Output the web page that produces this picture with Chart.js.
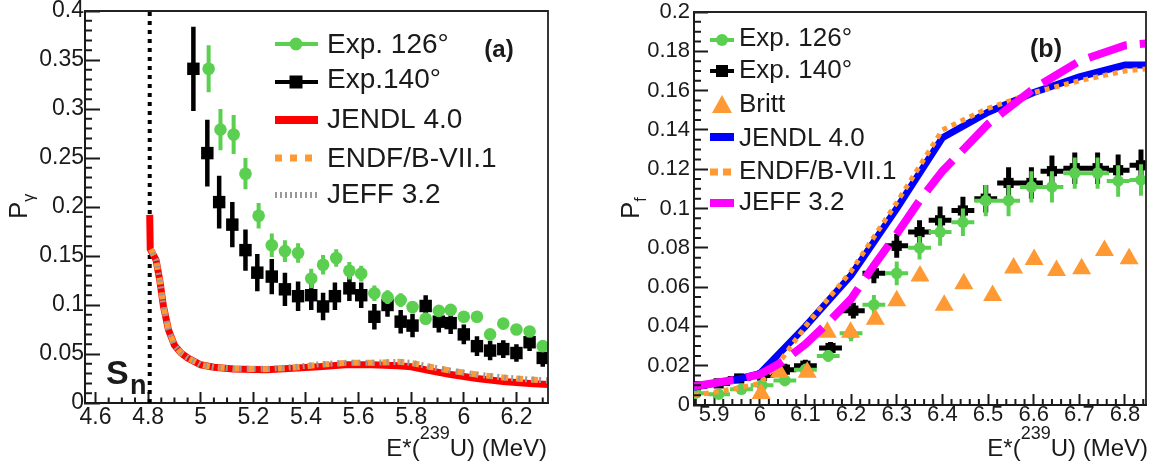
<!DOCTYPE html>
<html><head><meta charset="utf-8">
<script src="https://cdn.jsdelivr.net/npm/chart.js@4"></script>
<style>
html,body{margin:0;padding:0;background:#fff;}
#wrap{position:relative;width:1157px;height:466px;overflow:hidden;}
#c1{position:absolute;left:0;top:0;}
#c2{position:absolute;left:580px;top:0;}
</style></head><body>
<div id="wrap"><canvas id="c1" width="580" height="466"></canvas><canvas id="c2" width="577" height="466"></canvas></div>
<script>
// ---------------- Panel (a) data ----------------
const aSn = 4.806;
const aGreenX = [5.03,5.075,5.125,5.17,5.22,5.27,5.32,5.37,5.42,5.465,5.515,5.565,5.61,5.66,5.71,5.76,5.805,5.855,5.905,5.95,6.0,6.05,6.1,6.15,6.2,6.25,6.3];
const aGreenY = [0.341,0.279,0.274,0.234,0.191,0.161,0.155,0.153,0.127,0.141,0.148,0.135,0.132,0.112,0.108,0.105,0.098,0.086,0.094,0.095,0.088,0.088,0.070,0.081,0.075,0.073,0.058];
const aGreenErr = [0.024,0.021,0.020,0.016,0.013,0.012,0.011,0.010,0.010,0.010,0.009,0.009,0.008,0.008,0.007,0.007,0.006,0.006,0.005,0.005,0.005,0.005,0.005,0.005,0.005,0.005,0.005];
const aBlackX = [4.972,5.025,5.07,5.12,5.17,5.215,5.27,5.32,5.37,5.42,5.465,5.51,5.565,5.61,5.66,5.71,5.76,5.805,5.855,5.905,5.95,6.0,6.05,6.1,6.15,6.2,6.25,6.3];
const aBlackY = [0.341,0.255,0.205,0.182,0.156,0.133,0.129,0.116,0.109,0.110,0.0985,0.109,0.117,0.110,0.088,0.100,0.083,0.079,0.099,0.083,0.0815,0.070,0.058,0.0535,0.055,0.051,0.062,0.046];
const aBlackErr = [0.043,0.034,0.027,0.023,0.021,0.019,0.018,0.017,0.015,0.015,0.014,0.014,0.013,0.013,0.013,0.012,0.012,0.012,0.011,0.011,0.011,0.010,0.010,0.010,0.009,0.009,0.009,0.009];
const aJendlX = [4.806,4.808,4.83,4.845,4.858,4.877,4.90,4.925,4.95,5.0,5.05,5.125,5.25,5.35,5.45,5.55,5.65,5.75,5.8,5.87,5.95,6.05,6.15,6.25,6.32];
const aJendlY = [0.192,0.157,0.146,0.124,0.099,0.075,0.059,0.051,0.046,0.039,0.0365,0.0348,0.034,0.0355,0.037,0.039,0.039,0.038,0.037,0.033,0.029,0.025,0.022,0.020,0.019];
const aEndfX = [4.81,4.83,4.845,4.858,4.877,4.90,4.925,4.95,5.0,5.05,5.125,5.25,5.35,5.45,5.55,5.65,5.75,5.8,5.87,5.95,6.05,6.15,6.25,6.32];
const aEndfY = [0.157,0.146,0.124,0.099,0.075,0.059,0.051,0.046,0.039,0.0365,0.035,0.0345,0.036,0.039,0.041,0.041,0.042,0.041,0.037,0.033,0.029,0.026,0.024,0.023];
const aJeffX = [4.81,4.83,4.845,4.858,4.877,4.90,4.925,4.95,5.0,5.05,5.125,5.25,5.35,5.45,5.55,5.65,5.75,5.8,5.87,5.95,6.05,6.15,6.25,6.32];
const aJeffY = [0.157,0.146,0.124,0.099,0.075,0.059,0.051,0.046,0.039,0.0365,0.035,0.0348,0.0365,0.0395,0.041,0.041,0.042,0.041,0.037,0.033,0.029,0.026,0.024,0.023];
const aXTicks = [4.6,4.8,5.0,5.2,5.4,5.6,5.8,6.0,6.2];
const aXLabels = ['4.6','4.8','5','5.2','5.4','5.6','5.8','6','6.2'];
const aYTicks = [0,0.05,0.1,0.15,0.2,0.25,0.3,0.35,0.4];
const aYLabels = ['0','0.05','0.1','0.15','0.2','0.25','0.3','0.35','0.4'];
const aLegend = ['Exp. 126°','Exp.140°','JENDL 4.0','ENDF/B-VII.1','JEFF 3.2'];

// ---------------- Panel (b) data ----------------
const bGreenX = [5.86,5.91,5.96,6.005,6.055,6.10,6.15,6.20,6.25,6.30,6.35,6.395,6.445,6.495,6.545,6.595,6.64,6.69,6.74,6.785,6.835];
const bGreenY = [0.006,0.0055,0.008,0.010,0.0125,0.018,0.025,0.0365,0.051,0.067,0.080,0.088,0.093,0.104,0.104,0.111,0.111,0.118,0.118,0.114,0.1145];
const bGreenYErr = [0.002,0.002,0.002,0.002,0.003,0.003,0.003,0.004,0.005,0.006,0.006,0.007,0.007,0.008,0.008,0.008,0.008,0.008,0.008,0.008,0.008];
const bGreenXErr = [0.025,0.025,0.025,0.025,0.025,0.025,0.025,0.025,0.025,0.025,0.025,0.025,0.025,0.025,0.025,0.025,0.025,0.025,0.025,0.025,0.025];
const bBlackX = [5.86,5.91,5.955,6.005,6.055,6.10,6.155,6.205,6.25,6.30,6.35,6.395,6.445,6.495,6.545,6.595,6.64,6.69,6.74,6.785,6.835];
const bBlackY = [0.0095,0.011,0.0135,0.015,0.018,0.020,0.029,0.048,0.067,0.081,0.088,0.094,0.099,0.105,0.113,0.113,0.119,0.1205,0.1205,0.1195,0.122];
const bBlackYErr = [0.002,0.002,0.002,0.002,0.003,0.003,0.003,0.004,0.005,0.006,0.006,0.007,0.007,0.007,0.008,0.008,0.008,0.008,0.008,0.008,0.008];
const bBlackXErr = [0.025,0.025,0.025,0.025,0.025,0.025,0.025,0.025,0.025,0.025,0.025,0.025,0.025,0.025,0.025,0.025,0.025,0.025,0.025,0.025,0.025];
const bBrittX = [6.003,6.043,6.104,6.148,6.199,6.253,6.30,6.351,6.404,6.447,6.51,6.556,6.601,6.65,6.705,6.755,6.809];
const bBrittY = [0.0058,0.0167,0.0167,0.037,0.037,0.0437,0.053,0.0657,0.0507,0.0617,0.0557,0.0697,0.074,0.0684,0.0693,0.0786,0.0744];
const bJendlX = [5.856,5.9,5.95,6.0,6.1,6.2,6.3,6.4,6.5,6.6,6.7,6.8,6.846];
const bJendlY = [0.009,0.011,0.013,0.016,0.040,0.066,0.100,0.136,0.149,0.159,0.167,0.173,0.173];
const bEndfX = [5.856,5.9,5.95,6.0,6.05,6.1,6.2,6.3,6.4,6.5,6.6,6.7,6.8,6.846];
const bEndfY = [0.005,0.0065,0.0085,0.011,0.024,0.040,0.068,0.103,0.140,0.151,0.159,0.165,0.170,0.171];
const bJeffX = [5.856,5.95,6.0,6.05,6.1,6.15,6.2,6.25,6.3,6.35,6.4,6.5,6.6,6.7,6.8,6.846];
const bJeffY = [0.0095,0.013,0.0155,0.022,0.031,0.042,0.054,0.071,0.087,0.104,0.119,0.143,0.161,0.175,0.183,0.184];
const bXTicks = [5.9,6.0,6.1,6.2,6.3,6.4,6.5,6.6,6.7,6.8];
const bXLabels = ['5.9','6','6.1','6.2','6.3','6.4','6.5','6.6','6.7','6.8'];
const bYTicks = [0,0.02,0.04,0.06,0.08,0.1,0.12,0.14,0.16,0.18,0.2];
const bYLabels = ['0','0.02','0.04','0.06','0.08','0.1','0.12','0.14','0.16','0.18','0.2'];
const bLegend = ['Exp. 126°','Exp. 140°','Britt','JENDL 4.0','ENDF/B-VII.1','JEFF 3.2'];

// ---------------- helpers ----------------
const FONT = "'Liberation Sans', Arial, Helvetica, sans-serif";
const INK = '#1a1a1a';
const GREEN = '#5bcf50', ORANGE = '#ff9933', RED = '#ff0000', GRAY = '#999999', BLUE = '#0000ff', MAGENTA = '#ff00ff';

const pts = (xs, ys) => xs.map((x, i) => ({x, y: ys[i]}));
function yBars(xs, ys, es) { const d = []; xs.forEach((x, i) => { d.push({x, y: ys[i] - es[i]}, {x, y: ys[i] + es[i]}, {x, y: null}); }); return d; }
function xBars(xs, ys, es) { const d = []; xs.forEach((x, i) => { d.push({x: x - es[i], y: ys[i]}, {x: x + es[i], y: ys[i]}, {x, y: null}); }); return d; }
function range(a, b, step) { const r = []; for (let v = a; v <= b + 1e-9; v += step) r.push(+v.toFixed(4)); return r; }

function lineDs(data, color, width, dash, extra) {
  return Object.assign({type: 'line', data, borderColor: color, borderWidth: width, borderDash: dash || [], borderCapStyle: 'butt',
    pointRadius: 0, showLine: true, fill: false, tension: 0, spanGaps: false}, extra || {});
}
function markDs(data, color, style, r) {
  return {type: 'scatter', data, showLine: false, pointStyle: style, pointRadius: r, pointHoverRadius: r,
    pointBackgroundColor: color, pointBorderColor: color, pointBorderWidth: 0};
}
function scaleOpt(o) {
  return {
    type: 'linear', position: o.position, min: o.min, max: o.max,
    afterBuildTicks: s => { s.ticks = o.ticks.map(v => ({value: v})); },
    afterFit: s => { if (o.position === 'bottom') s.height = o.size; else s.width = o.size;
      s.paddingLeft = 0; s.paddingRight = 0; s.paddingTop = 0; s.paddingBottom = 0; },
    ticks: {autoSkip: false, maxRotation: 0, minRotation: 0, padding: o.pad, color: INK,
      font: {family: FONT, size: o.font}, callback: (v, i) => o.labels[i]},
    grid: {display: true, drawOnChartArea: false, drawTicks: true, tickLength: -o.tickLen, tickWidth: 2, tickColor: INK},
    border: {display: true, width: 2, color: INK}
  };
}
function drawRich(ctx, parts, x, y, align, rotate) {
  ctx.save(); ctx.translate(x, y); if (rotate) ctx.rotate(-Math.PI / 2);
  let total = 0;
  parts.forEach(p => { ctx.font = (p.bold ? 'bold ' : '') + p.size + 'px ' + FONT; p.w = ctx.measureText(p.t).width; total += p.w; });
  let cx = align === 'right' ? -total : (align === 'center' ? -total / 2 : 0);
  ctx.textBaseline = 'alphabetic'; ctx.textAlign = 'left'; ctx.fillStyle = INK;
  parts.forEach(p => { ctx.font = (p.bold ? 'bold ' : '') + p.size + 'px ' + FONT; ctx.fillText(p.t, cx, p.dy || 0); cx += p.w; });
  ctx.restore();
}
function seg(ctx, x1, x2, y, color, w, dash) {
  ctx.save(); ctx.strokeStyle = color; ctx.lineWidth = w; ctx.setLineDash(dash || []); ctx.lineCap = 'butt';
  ctx.beginPath(); ctx.moveTo(x1, y); ctx.lineTo(x2, y); ctx.stroke(); ctx.restore();
}
function frameMinor(chart, o) {
  const {ctx, chartArea: a, scales} = chart;
  ctx.save(); ctx.strokeStyle = INK; ctx.lineWidth = 2; ctx.beginPath();
  o.xMinor.forEach(v => { const p = scales.x.getPixelForValue(v); if (p > a.left + 1 && p < a.right - 1) { ctx.moveTo(p, a.bottom); ctx.lineTo(p, a.bottom - o.xLen); } });
  o.yMinor.forEach(v => { const p = scales.y.getPixelForValue(v); if (p > a.top + 1 && p < a.bottom - 1) { ctx.moveTo(a.left, p); ctx.lineTo(a.left + o.yLen, p); } });
  ctx.stroke();
  ctx.lineWidth = 1.8; ctx.strokeStyle = '#222';
  ctx.beginPath(); ctx.moveTo(a.left, a.top); ctx.lineTo(a.right, a.top); ctx.lineTo(a.right, a.bottom); ctx.stroke();
  ctx.restore();
}

// ---------------- Chart (a) ----------------
const aMajorX = new Set(aXTicks.map(v => v.toFixed(2)));
const aMajorY = new Set(aYTicks.map(v => v.toFixed(3)));
const plugA = {
  id: 'decorA',
  afterDraw(chart) {
    const ctx = chart.ctx;
    frameMinor(chart, {xMinor: range(4.6, 6.3, 0.05).filter(v => !aMajorX.has(v.toFixed(2))), xLen: 5.5,
      yMinor: range(0, 0.4, 0.01).filter(v => !aMajorY.has(v.toFixed(3))), yLen: 7});
    const lx1 = 275, lx2 = 318, tx = 327;
    seg(ctx, lx1, lx2, 44, GREEN, 4);
    ctx.fillStyle = GREEN; ctx.beginPath(); ctx.arc(296, 44, 6.5, 0, 2 * Math.PI); ctx.fill();
    seg(ctx, lx1, lx2, 82, '#000', 4);
    ctx.fillStyle = '#000'; ctx.fillRect(289.5, 75.5, 13, 13);
    seg(ctx, lx1, lx2, 120, RED, 8);
    seg(ctx, lx1, lx2, 158, ORANGE, 7, [7, 8]);
    seg(ctx, lx1, lx2, 195, GRAY, 6, [2, 3]);
    const base = [53, 88, 128, 167, 203];
    aLegend.forEach((t, i) => drawRich(ctx, [{t, size: 28}], tx, base[i], 'left'));
    drawRich(ctx, [{t: '(a)', size: 24, bold: true}], 499, 57, 'center');
    drawRich(ctx, [{t: 'S', size: 34, bold: true}], 106, 384, 'left');
    drawRich(ctx, [{t: 'n', size: 27, bold: true}], 130, 394, 'left');
    drawRich(ctx, [{t: 'E*(', size: 24}, {t: '239', size: 18, dy: -17}, {t: 'U) (MeV)', size: 24}], 547, 456, 'right');
    drawRich(ctx, [{t: 'P', size: 26}, {t: 'γ', size: 16, dy: 7}], 27, 219, 'left', true);
  }
};

new Chart(document.getElementById('c1'), {
  type: 'scatter',
  data: {datasets: [
    lineDs(pts(aJeffX, aJeffY), GRAY, 6, [2, 5], {borderDashOffset: 3}),
    lineDs(pts(aEndfX, aEndfY), ORANGE, 6, [7, 8]),
    lineDs(pts(aJendlX, aJendlY), RED, 7),
    lineDs([{x: aSn, y: 0}, {x: aSn, y: 0.4}], '#000', 4, [4, 5]),
    markDs(pts(aGreenX, aGreenY), GREEN, 'circle', 6.3),
    lineDs(yBars(aGreenX, aGreenY, aGreenErr), GREEN, 4),
    markDs(pts(aBlackX, aBlackY), '#000', 'rect', 8.8),
    lineDs(yBars(aBlackX, aBlackY, aBlackErr), '#000', 4.5)
  ]},
  options: {
    responsive: false, animation: false, events: [],
    layout: {padding: {left: 0, right: 32, top: 11, bottom: 0}},
    plugins: {legend: {display: false}, tooltip: {enabled: false}},
    scales: {
      x: scaleOpt({position: 'bottom', min: 4.56, max: 6.32, ticks: aXTicks, labels: aXLabels, size: 63, pad: 12, font: 23, tickLen: 11}),
      y: scaleOpt({position: 'left', min: 0, max: 0.4, ticks: aYTicks, labels: aYLabels, size: 85, pad: 16, font: 23, tickLen: 15})
    }
  },
  plugins: [plugA]
});

// ---------------- Chart (b) ----------------
const bMajorX = new Set(bXTicks.map(v => v.toFixed(2)));
const bMajorY = new Set(bYTicks.map(v => v.toFixed(3)));
const plugB = {
  id: 'decorB',
  afterDraw(chart) {
    const ctx = chart.ctx;
    frameMinor(chart, {xMinor: range(5.86, 6.84, 0.02).filter(v => !bMajorX.has(v.toFixed(2))), xLen: 6,
      yMinor: range(0, 0.2, 0.005).filter(v => !bMajorY.has(v.toFixed(3))), yLen: 7});
    const ox = -580;
    const lx1 = 710 + ox, lx2 = 734 + ox, cx = 722 + ox, tx = 739 + ox;
    seg(ctx, lx1, lx2, 40, GREEN, 4);
    ctx.fillStyle = GREEN; ctx.beginPath(); ctx.arc(cx, 40, 6, 0, 2 * Math.PI); ctx.fill();
    seg(ctx, lx1, lx2, 71, '#000', 4);
    ctx.fillStyle = '#000'; ctx.fillRect(cx - 6, 65, 12, 12);
    ctx.fillStyle = ORANGE; ctx.beginPath();
    ctx.moveTo(cx, 95); ctx.lineTo(cx + 10, 113); ctx.lineTo(cx - 10, 113); ctx.closePath(); ctx.fill();
    seg(ctx, lx1, lx2, 137, BLUE, 8);
    seg(ctx, lx1, lx2, 172, ORANGE, 7, [8, 5]);
    seg(ctx, lx1, lx2, 203, MAGENTA, 8);
    const base = [46, 78, 112, 146, 179, 210];
    bLegend.forEach((t, i) => drawRich(ctx, [{t, size: 26}], tx, base[i], 'left'));
    drawRich(ctx, [{t: '(b)', size: 25, bold: true}], 1046 + ox, 57, 'center');
    drawRich(ctx, [{t: 'E*(', size: 24}, {t: '239', size: 18, dy: -17}, {t: 'U) (MeV)', size: 24}], 1148 + ox, 456, 'right');
    drawRich(ctx, [{t: 'P', size: 26}, {t: 'f', size: 16, dy: 7}], 639 + ox, 219, 'left', true);
  }
};

new Chart(document.getElementById('c2'), {
  type: 'scatter',
  data: {datasets: [
    lineDs(pts(bJeffX, bJeffY), MAGENTA, 8, [40, 13]),
    lineDs(pts(bEndfX, bEndfY), ORANGE, 5, [5, 5]),
    lineDs(pts(bJendlX, bJendlY), BLUE, 7),
    markDs(pts(bBrittX, bBrittY), ORANGE, 'triangle', 11),
    markDs(pts(bGreenX, bGreenY), GREEN, 'circle', 5.8),
    lineDs(xBars(bGreenX, bGreenY, bGreenXErr), GREEN, 4),
    lineDs(yBars(bGreenX, bGreenY, bGreenYErr), GREEN, 4),
    markDs(pts(bBlackX, bBlackY), '#000', 'rect', 7.2),
    lineDs(xBars(bBlackX, bBlackY, bBlackXErr), '#000', 5),
    lineDs(yBars(bBlackX, bBlackY, bBlackYErr), '#000', 5)
  ]},
  options: {
    responsive: false, animation: false, events: [],
    layout: {padding: {left: 0, right: 8, top: 12, bottom: 0}},
    plugins: {legend: {display: false}, tooltip: {enabled: false}},
    scales: {
      x: scaleOpt({position: 'bottom', min: 5.856, max: 6.846, ticks: bXTicks, labels: bXLabels, size: 61, pad: 8, font: 22, tickLen: 11}),
      y: scaleOpt({position: 'left', min: 0, max: 0.2, ticks: bYTicks, labels: bYLabels, size: 114, pad: 18, font: 22, tickLen: 14})
    }
  },
  plugins: [plugB]
});
</script>
</body></html>
